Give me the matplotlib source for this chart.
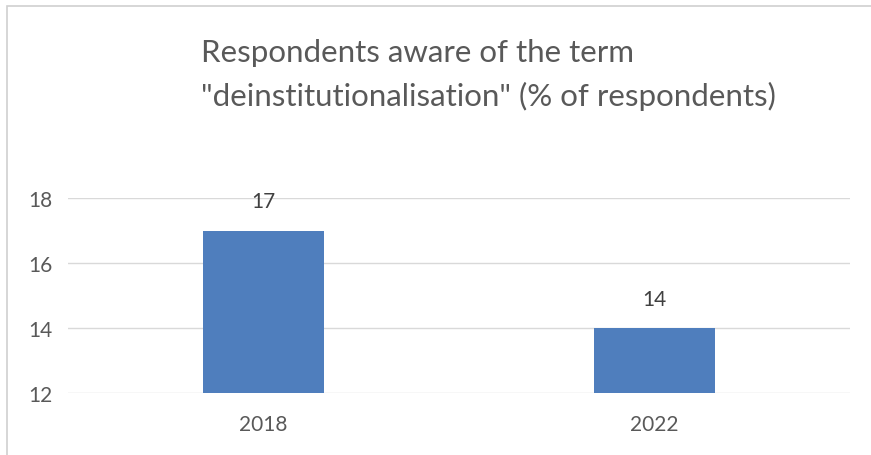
import matplotlib.pyplot as plt
from matplotlib.patches import Rectangle

years = ['2018', '2022']
values = [17, 14]

plt.rcParams['font.family'] = ['Lato', 'DejaVu Sans']

fig = plt.figure(figsize=(8.71, 4.56), dpi=100)
# light frame round the chart, like the spreadsheet export
fig.patches.append(Rectangle((7/871, -0.01), 1.0, 1 - 7/456 + 0.01, transform=fig.transFigure,
                             fill=False, edgecolor='#D0D0D0', linewidth=1.2))

ax = fig.add_axes([68/871, 1 - 394/456, 782/871, 195/456])
bars = ax.bar(range(len(years)), [v - 12 for v in values], bottom=12, width=0.31,
              color='#4F7EBD', zorder=3)
ax.set_xlim(-0.5, 1.5)
ax.set_ylim(12, 18)
ax.set_yticks([12, 14, 16, 18])
ax.set_xticks(range(len(years)))
ax.set_xticklabels(years)
ax.grid(axis='y', color='#D9D9D9', linewidth=1, zorder=0)
for s in ax.spines.values():
    s.set_visible(False)
ax.tick_params(length=0, colors='#595959', labelsize=15)
ax.tick_params(axis='y', pad=11)
ax.tick_params(axis='x', pad=15)

for i, v in enumerate(values):
    ax.annotate(str(v), (i, v), xytext=(0, 21), textcoords='offset points',
                ha='center', va='center', color='#404040', fontsize=15)

fig.text(201/871, 1 - 75/456, 'Respondents aware of the term\n"deinstitutionalisation" (% of respondents)',
         ha='left', va='center', multialignment='left', fontsize=22.5, color='#595959',
         linespacing=1.6)

fig.savefig('out.png', dpi=100)
